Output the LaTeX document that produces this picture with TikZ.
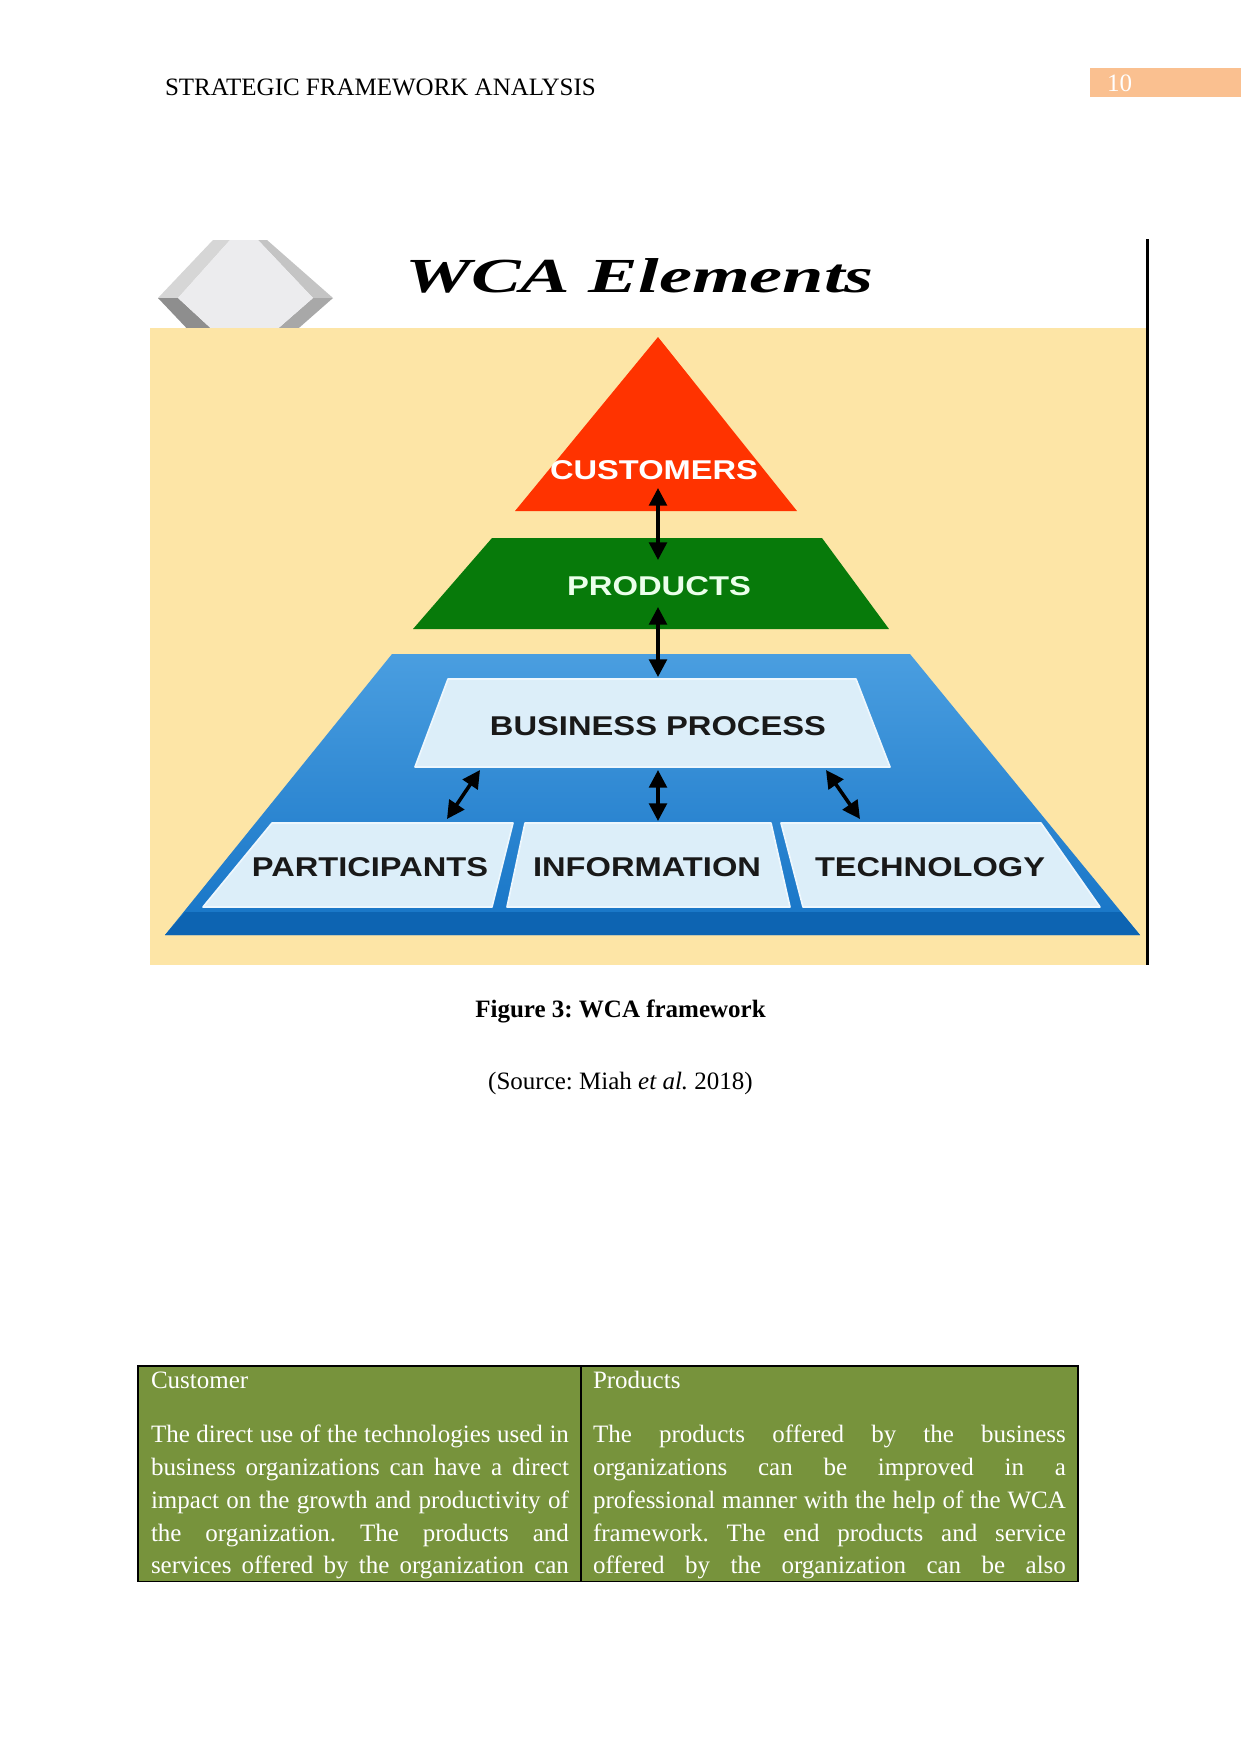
\documentclass[tikz,border=0pt]{standalone}
\usepackage{fontspec}
\usepackage{graphicx}
\setmainfont{Liberation Serif}
\newfontfamily\hvfont{Liberation Sans}
\usetikzlibrary{arrows.meta}
\frenchspacing
\definecolor{pgorange}{HTML}{FAC090}
\definecolor{bgyellow}{HTML}{FDE5A6}
\definecolor{pyrred}{HTML}{FF3300}
\definecolor{pyrgreen}{HTML}{077A0A}
\definecolor{bluetop}{HTML}{4A9EE0}
\definecolor{bluebot}{HTML}{1674C6}
\definecolor{blueband}{HTML}{0D64B2}
\definecolor{boxblue}{HTML}{DCEEF9}
\definecolor{boxedge}{HTML}{EEF7FD}
\definecolor{tabgreen}{HTML}{77933C}
\definecolor{hexface}{HTML}{ECECEE}
\definecolor{hexul}{HTML}{D6D6D6}
\definecolor{hexur}{HTML}{C4C4C4}
\definecolor{hexll}{HTML}{8E8E8E}
\definecolor{hexlr}{HTML}{A8A8A8}
\newcommand\plbl[2]{\resizebox{#1pt}{9.1pt}{\hvfont\bfseries #2}}
\newcommand\jline[2]{\makebox[#1pt][s]{#2}}
\begin{document}
\begin{tikzpicture}[x=0.48pt,y=-0.48pt,
  txt/.style={inner sep=0pt,outer sep=0pt,font=\fontsize{12}{14}\selectfont},
  lbl/.style={inner sep=0pt,outer sep=0pt},
  arr/.style={line width=1.7pt,{Triangle[length=8.5pt,width=8.5pt]}-{Triangle[length=8.5pt,width=8.5pt]}},
  lightbox/.style={fill=boxblue,draw=boxedge,line width=0.8pt,line join=round}]
\fill[white] (0,0) rectangle (1241,1754);
\useasboundingbox (0,0) rectangle (1241,1754);

% header
\node[txt,anchor=base west] (hdr) at (165,95) {STRATEGIC FRAMEWORK ANALYSIS};
\fill[pgorange] (1090,68) rectangle (1241,97);
\node[txt,anchor=base west,text=white] (pg) at (1107,91) {10};

% figure title area
\begin{scope}
\clip (140,235) rectangle (1146,328);
\fill[hexul] (213,240) -- (158,298) -- (178,298) -- (230,240) -- cycle;
\fill[hexur] (267,240) -- (333,298) -- (313,298) -- (258,240) -- cycle;
\fill[hexll] (158,298) -- (213,356) -- (230,346) -- (178,298) -- cycle;
\fill[hexlr] (333,298) -- (267,356) -- (258,346) -- (313,298) -- cycle;
\fill[hexface] (230,240) -- (258,240) -- (313,298) -- (258,346) -- (230,346) -- (178,298) -- cycle;
\end{scope}
\node[lbl,anchor=base west] (title) at (405,292)
  {\resizebox{225pt}{16.3pt}{\bfseries\itshape WCA Elements}};

% background
\fill[bgyellow] (150,328) rectangle (1146,965);
\draw[line width=1.8pt] (1147.5,239) -- (1147.5,965);

% pyramid
\fill[pyrred] (658,337) -- (797,511) -- (515,511) -- cycle;
\fill[pyrgreen] (492,538) -- (822,538) -- (889,629) -- (413,629) -- cycle;
\shade[top color=bluetop,bottom color=bluebot] (392,654) -- (910,654) -- (1140,935) -- (165,935) -- cycle;
\fill[blueband] (185,912) -- (1121,912) -- (1140,935) -- (165,935) -- cycle;

\draw[lightbox] (448,679) -- (856,679) -- (890,767) -- (415,767) -- cycle;
\draw[lightbox] (272,823) -- (513,823) -- (492,907) -- (203,907) -- cycle;
\draw[lightbox] (525,823) -- (771,823) -- (790,907) -- (507,907) -- cycle;
\draw[lightbox] (781,823) -- (1041,823) -- (1100,907) -- (803,907) -- cycle;

\node[lbl,text=white] (cust) at (654,470) {\plbl{99.8}{CUSTOMERS}};
\node[lbl,text=white!92!green] (prod) at (659,586) {\plbl{88.3}{PRODUCTS}};
\node[lbl,text=black!90] (bp) at (658,726) {\plbl{161.3}{BUSINESS PROCESS}};
\node[lbl,text=black!90] (part) at (370,867) {\plbl{113.3}{PARTICIPANTS}};
\node[lbl,text=black!90] (info) at (647,867) {\plbl{109.4}{INFORMATION}};
\node[lbl,text=black!90] (tech) at (930,867) {\plbl{110.4}{TECHNOLOGY}};

% connectors
\coordinate (a1s) at (658,488);
\coordinate (a1e) at (658,560);
\coordinate (a2s) at (658,607);
\coordinate (a2e) at (658,677);
\coordinate (a3s) at (480,770);
\coordinate (a3e) at (447,819);
\coordinate (a4s) at (658,770);
\coordinate (a4e) at (658,821);
\coordinate (a5s) at (826,770);
\coordinate (a5e) at (860,819);
\draw[arr] (a1s) -- (a1e);
\draw[arr] (a2s) -- (a2e);
\draw[arr] (a3s) -- (a3e);
\draw[arr] (a4s) -- (a4e);
\draw[arr] (a5s) -- (a5e);

% caption
\node[txt,anchor=base] (cap) at (620.5,1017) {\bfseries Figure 3: WCA framework};
\node[txt,anchor=base] (src) at (620.5,1089) {(Source: Miah \textit{et al.} 2018)};

% table
\fill[tabgreen] (138,1366) rectangle (1078,1581);
\draw[line width=0.5pt] (138,1366) rectangle (1078,1581);
\draw[line width=0.5pt] (581,1366) -- (581,1581);
\begin{scope}[every node/.style={txt,anchor=base west,text=white}]
\node (ch) at (151,1388) {Customer};
\node (ph) at (593,1388) {Products};
\node (l1) at (151,1442) {\jline{200.6}{The direct use of the technologies used in}};
\node (l2) at (151,1475) {\jline{200.6}{business organizations can have a direct}};
\node (l3) at (151,1508) {\jline{200.6}{impact on the growth and productivity of}};
\node (l4) at (151,1541) {\jline{200.6}{the organization. The products and}};
\node (l5) at (151,1573) {\jline{200.6}{services offered by the organization can}};
\node (r1) at (593,1442) {\jline{227}{The products offered by the business}};
\node (r2) at (593,1475) {\jline{227}{organizations can be improved in a}};
\node (r3) at (593,1508) {\jline{227}{professional manner with the help of the WCA}};
\node (r4) at (593,1541) {\jline{227}{framework. The end products and service}};
\node (r5) at (593,1573) {\jline{227}{offered by the organization can be also}};
\end{scope}
\end{tikzpicture}
\end{document}
